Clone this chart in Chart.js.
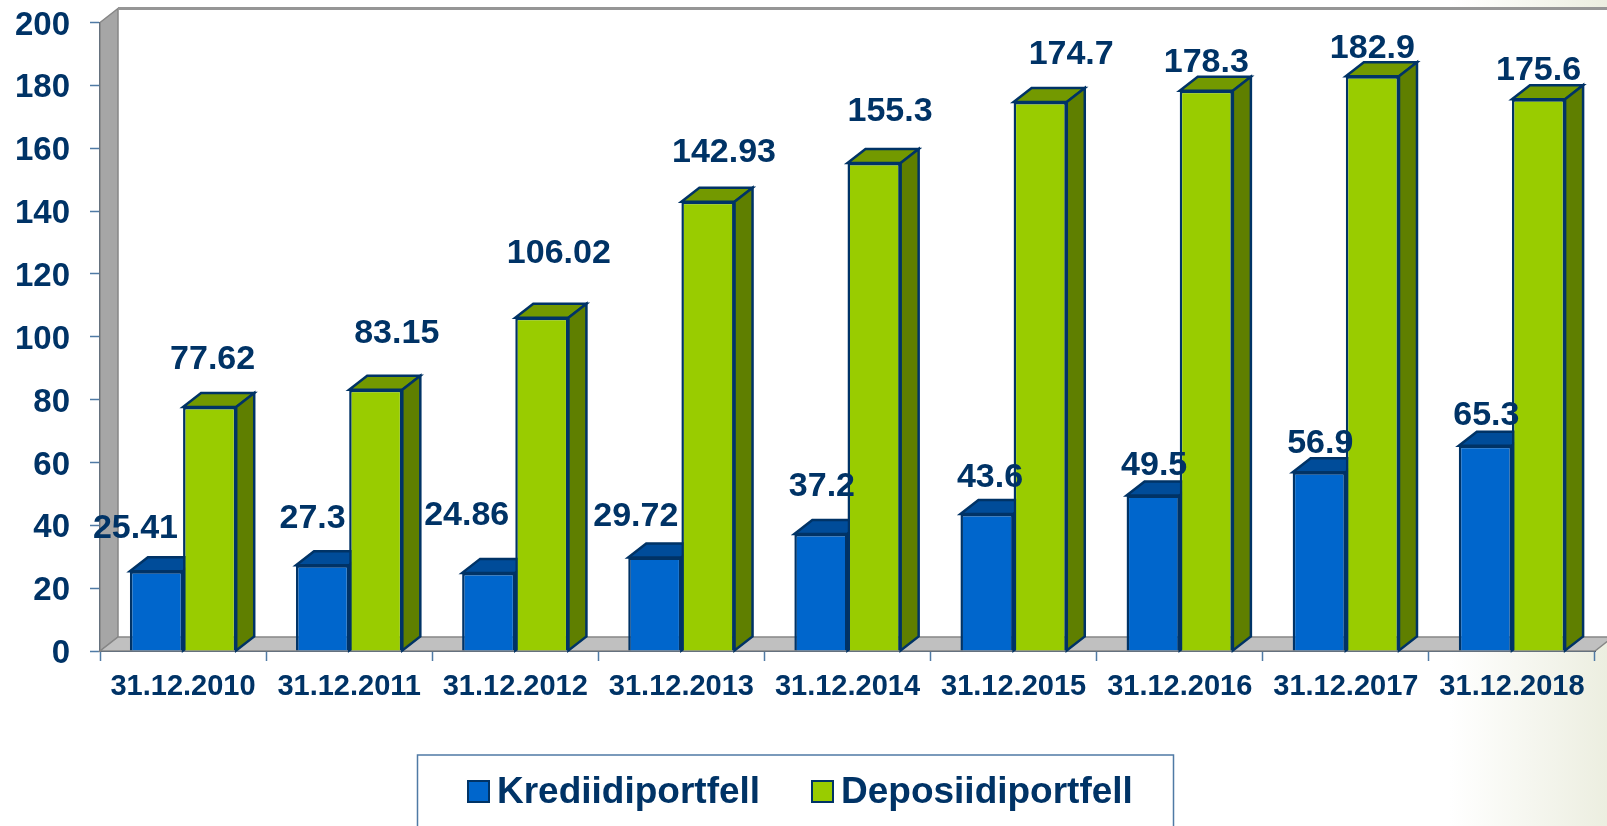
<!DOCTYPE html>
<html>
<head>
<meta charset="utf-8">
<title>Krediidi- ja deposiidiportfell</title>
<script src="https://cdn.jsdelivr.net/npm/chart.js@4"></script>
<style>
  html, body { margin: 0; padding: 0; width: 1607px; height: 826px; overflow: hidden; }
  body { background: linear-gradient(90deg, #ffffff 0, #ffffff 1450px, #eceee0 1607px); }
  #chart { display: block; }
</style>
</head>
<body>
<canvas id="chart" width="1607" height="826"></canvas>
<script>
const categories = ['31.12.2010', '31.12.2011', '31.12.2012', '31.12.2013', '31.12.2014', '31.12.2015', '31.12.2016', '31.12.2017', '31.12.2018'];
const krediidiportfell = [25.41, 27.3, 24.86, 29.72, 37.2, 43.6, 49.5, 56.9, 65.3];
const deposiidiportfell = [77.62, 83.15, 106.02, 142.93, 155.3, 174.7, 178.3, 182.9, 175.6];
const yTicks = [0, 20, 40, 60, 80, 100, 120, 140, 160, 180, 200];

// label offsets from bar top, the labels were moved by hand in the original
const labelShift = [
  [[-21, -43], [-10, -47], [-22, -57], [-19, -41], [1, -47], [3, -36], [1, -30], [1, -29], [1, -30]],
  [[3, -47], [21, -56], [17, -64], [16, -49], [16, -51], [31, -47], [0, -28], [0, -28], [0, -29]]
];

const navy = '#003366';
const depthX = 18;
const depthY = -14;
const faces = [
  { top: '#004c99', side: '#003d7a' },
  { top: '#739900', side: '#5f7f00' }
];

function poly(ctx, pts, fill, stroke, lw) {
  ctx.beginPath();
  pts.forEach((p, i) => i ? ctx.lineTo(p[0], p[1]) : ctx.moveTo(p[0], p[1]));
  ctx.closePath();
  ctx.fillStyle = fill;
  ctx.fill();
  if (stroke) {
    ctx.strokeStyle = stroke;
    ctx.lineWidth = lw;
    ctx.stroke();
  }
}

// back wall, side wall and floor, then top and side faces of every bar.
// faces go first for all datasets so the green fronts cover the blue sides
const box3d = {
  id: 'box3d',
  beforeDatasetsDraw(chart) {
    const { ctx, chartArea: a } = chart;
    const dx = depthX, dy = depthY;
    ctx.save();
    poly(ctx, [[a.left + dx, a.top + dy], [a.right + dx, a.top + dy], [a.right + dx, a.bottom + dy], [a.left + dx, a.bottom + dy]], '#ffffff');
    poly(ctx, [[a.left, a.top], [a.left + dx, a.top + dy], [a.left + dx, a.bottom + dy], [a.left, a.bottom]], '#a6a6a6', '#868686', 1.5);
    poly(ctx, [[a.left, a.bottom], [a.left + dx, a.bottom + dy], [a.right + dx, a.bottom + dy], [a.right, a.bottom]], '#c0c0c0', '#868686', 1.5);
    ctx.beginPath();
    ctx.moveTo(a.left + dx, a.top + dy);
    ctx.lineTo(a.right + dx, a.top + dy);
    ctx.strokeStyle = '#969696';
    ctx.lineWidth = 3;
    ctx.stroke();

    chart.data.datasets.forEach((ds, d) => {
      const face = faces[d];
      chart.getDatasetMeta(d).data.forEach(bar => {
        const { x, y, base, width } = bar.getProps(['x', 'y', 'base', 'width'], true);
        const l = x - width / 2, r = x + width / 2;
        poly(ctx, [[l, y], [l + dx, y + dy], [r + dx, y + dy], [r, y]], face.top, navy, 2.5);
        poly(ctx, [[r, y], [r + dx, y + dy], [r + dx, base + dy], [r, base]], face.side, navy, 2.5);
      });
    });
    ctx.restore();
  }
};

const valueLabels = {
  id: 'valueLabels',
  afterDatasetsDraw(chart) {
    const { ctx } = chart;
    ctx.save();
    ctx.font = 'bold 34px "Liberation Sans", Arial, sans-serif';
    ctx.fillStyle = navy;
    ctx.textAlign = 'center';
    ctx.textBaseline = 'middle';
    chart.data.datasets.forEach((ds, d) => {
      chart.getDatasetMeta(d).data.forEach((bar, i) => {
        const s = labelShift[d][i];
        ctx.fillText(String(ds.data[i]), bar.x + s[0], bar.y + s[1]);
      });
    });
    ctx.restore();
  }
};

// the framed legend runs off the bottom of the picture
const boxLegend = {
  id: 'boxLegend',
  afterDraw(chart) {
    const { ctx } = chart;
    ctx.save();
    ctx.strokeStyle = '#4f7aa5';
    ctx.lineWidth = 1.5;
    ctx.beginPath();
    ctx.moveTo(417.5, 830);
    ctx.lineTo(417.5, 755);
    ctx.lineTo(1173.5, 755);
    ctx.lineTo(1173.5, 830);
    ctx.stroke();
    ctx.font = 'bold 37px "Liberation Sans", Arial, sans-serif';
    ctx.textBaseline = 'middle';
    ctx.textAlign = 'left';
    const swatchX = [468, 812];
    chart.data.datasets.forEach((ds, d) => {
      ctx.fillStyle = ds.backgroundColor;
      ctx.strokeStyle = navy;
      ctx.lineWidth = 2;
      ctx.fillRect(swatchX[d], 781, 21, 21);
      ctx.strokeRect(swatchX[d], 781, 21, 21);
      ctx.fillStyle = navy;
      ctx.fillText(ds.label, swatchX[d] + 29, 793);
    });
    ctx.restore();
  }
};

new Chart(document.getElementById('chart'), {
  type: 'bar',
  data: {
    labels: categories,
    datasets: [
      { label: 'Krediidiportfell', data: krediidiportfell, backgroundColor: '#0066cc', borderColor: navy, borderWidth: 2.5 },
      { label: 'Deposiidiportfell', data: deposiidiportfell, backgroundColor: '#99cc00', borderColor: navy, borderWidth: 2.5 }
    ]
  },
  plugins: [box3d, valueLabels, boxLegend],
  options: {
    responsive: false,
    animation: false,
    barPercentage: 1,
    categoryPercentage: 0.64,
    layout: { padding: { top: 22.5, right: 12, left: 0, bottom: 0 } },
    plugins: { legend: { display: false }, tooltip: { enabled: false }, title: { display: false } },
    scales: {
      x: {
        grid: { offset: true, drawOnChartArea: false, tickLength: 10, color: '#4f7aa5', tickWidth: 1.5 },
        border: { color: navy, width: 2 },
        ticks: { color: navy, font: { family: '"Liberation Sans", Arial, sans-serif', size: 29, weight: 'bold' }, padding: 9, maxRotation: 0, autoSkip: false },
        afterFit(scale) { scale.height = 175; }
      },
      y: {
        min: 0,
        max: 200,
        afterBuildTicks(scale) { scale.ticks = yTicks.map(v => ({ value: v })); },
        grid: { drawOnChartArea: false, tickLength: 10, color: '#4f7aa5', tickWidth: 1.5 },
        border: { color: navy, width: 2 },
        ticks: { color: navy, font: { family: '"Liberation Sans", Arial, sans-serif', size: 33, weight: 'bold' }, padding: 20, labelOffset: 3 },
        afterFit(scale) { scale.width = 100; scale.paddingTop = 0; scale.paddingBottom = 0; }
      }
    }
  }
});
</script>
</body>
</html>
